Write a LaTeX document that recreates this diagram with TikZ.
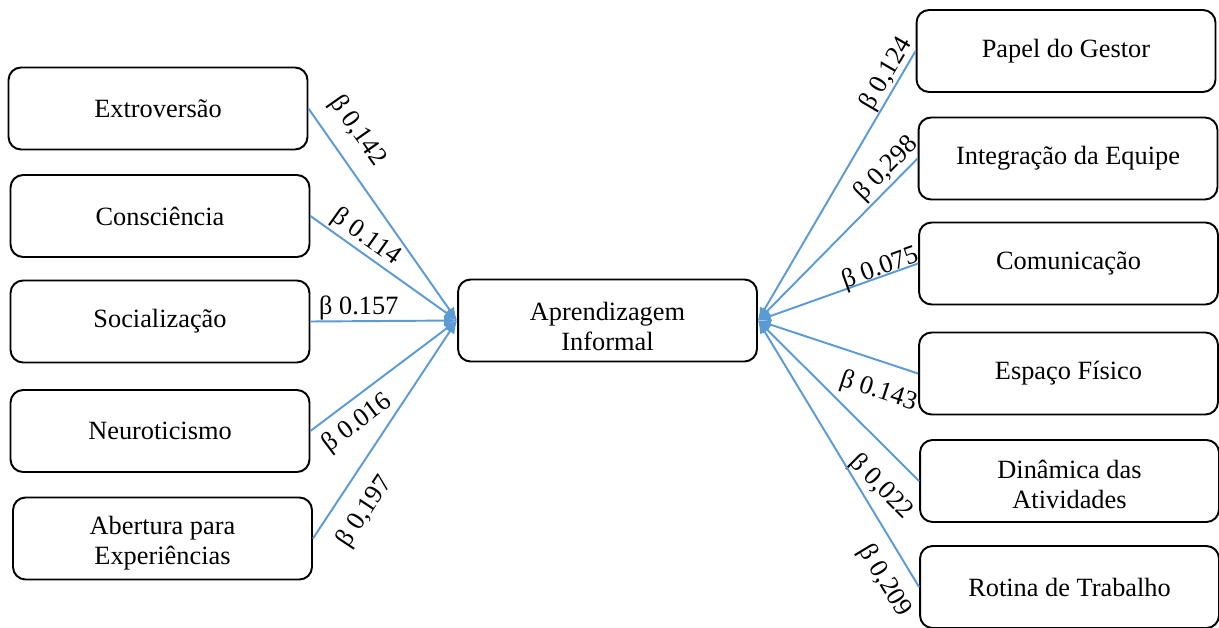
\documentclass[tikz,border=0pt]{standalone}
\usepackage{fontspec}
\setmainfont{Liberation Serif}
\usepackage{xcolor}
\usepackage{tikz}
\usetikzlibrary{arrows.meta}
\definecolor{linkblue}{RGB}{91,155,213}
% two lines of text, set lower in the box
\newcommand{\lowered}[2]{\raisebox{-#1}[\height][\depth]{\begin{tabular}{@{}c@{}}#2\end{tabular}}}

\begin{document}
\begin{tikzpicture}[x=0.02cm, y=-0.02cm,
    factor/.style={draw, line width=1.1pt, rounded corners=0.25cm, minimum width=5.98cm,
        minimum height=1.64cm, align=center, inner sep=0pt, font=\fontsize{15}{17}\selectfont},
    beta/.style={sloped, black, font=\fontsize{15}{16}\selectfont},
    link/.style={linkblue, line width=1.1pt, -{Latex[length=2.6mm,width=2.2mm]}}]

    \useasboundingbox (0,0) rectangle (1219,628);

    %personality
    \node[factor] (ext) at (158,108.5) {Extroversão};
    \node[factor] (cons) at (160,216) {Consciência};
    \node[factor] (soc) at (160,321.5) {Socialização};
    \node[factor] (neu) at (160,431) {Neuroticismo};
    \node[factor] (abe) at (162.5,538.5) {\lowered{3pt}{Abertura para\\Experiências}};

    %learning
    \node[factor] (ap) at (607.5,320.5) {\lowered{5pt}{Aprendizagem\\Informal}};

    %context
    \node[factor] (pap) at (1066,51) {Papel do Gestor};
    \node[factor] (int) at (1068,158.5) {Integração da Equipe};
    \node[factor] (com) at (1068.5,263.5) {Comunicação};
    \node[factor] (esp) at (1068.5,373.5) {Espaço Físico};
    \node[factor] (din) at (1069.5,481) {\lowered{3.5pt}{Dinâmica das\\Atividades}};
    \node[factor] (rot) at (1069.5,587) {Rotina de Trabalho};

    %paths left
    \foreach \n/\b/\p/\s/\g in {ext/{β 0,142}/0.18/above/8, cons/{β 0.114}/0.32/above/1,
        soc/{β 0.157}/0.33/above/0, neu/{β 0.016}/0.23/below/5, abe/{β 0,197}/0.195/below/9}{
        \draw[link] (\n.east) -- node[beta, pos=\p, \s, inner sep=\g pt] {\b} (ap.west);
    }
    %paths right
    \foreach \n/\b/\p/\s/\g in {pap/{β 0,124}/0.11/above/0, int/{β 0,298}/0.13/above/1,
        com/{β 0.075}/0.22/above/-3, esp/{β 0.143}/0.19/below/9.5, din/{β 0,022}/0.10/below/10.5,
        rot/{β 0,209}/0.075/below/7.5}{
        \draw[link] (\n.west) -- node[beta, pos=\p, \s, inner sep=\g pt] {\b} (ap.east);
    }

\end{tikzpicture}
\end{document}
